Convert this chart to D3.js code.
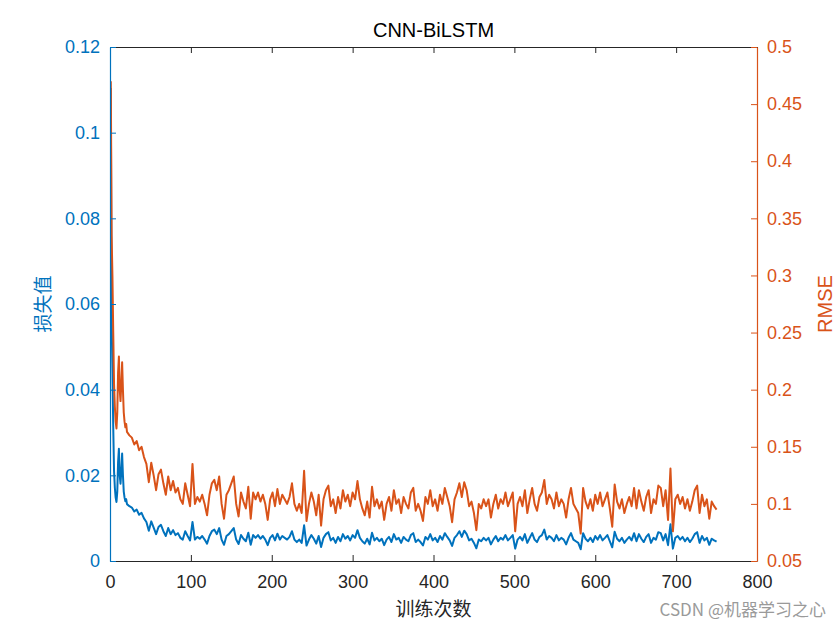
<!DOCTYPE html>
<html>
<head>
<meta charset="utf-8">
<script src="https://cdn.jsdelivr.net/npm/d3@7"></script>
<style>
  html, body { margin: 0; padding: 0; background: #fff; }
  svg { display: block; }
</style>
</head>
<body>
<svg id="chart" width="840" height="630"></svg>
<script>
// ---------------- DATA ----------------
const titleText = "CNN-BiLSTM";
const xLabel = "训练次数";
const yLeftLabel = "损失值";
const yRightLabel = "RMSE";
const watermark = "CSDN @机器学习之心";

const xTicks = [0, 100, 200, 300, 400, 500, 600, 700, 800];
const yLeftTicks = [0, 0.02, 0.04, 0.06, 0.08, 0.1, 0.12];
const yRightTicks = [0.05, 0.1, 0.15, 0.2, 0.25, 0.3, 0.35, 0.4, 0.45, 0.5];

// iterations: 1..20 individually, then every 3rd iteration 21..750
const iterations = d3.range(1, 21).concat(d3.range(21, 751, 3));

// RMSE (right axis)
const rmse = [
  0.470, 0.335, 0.300, 0.250, 0.205, 0.185, 0.172, 0.166, 0.180, 0.215,
  0.229, 0.200, 0.190, 0.205, 0.224, 0.200, 0.180, 0.172, 0.167, 0.170,
  // 21..99
  0.163, 0.160, 0.158, 0.152, 0.155, 0.147, 0.150, 0.141, 0.135, 0.119,
  0.136, 0.125, 0.112, 0.126, 0.130, 0.118, 0.108, 0.124, 0.112, 0.120,
  0.110, 0.114, 0.104, 0.100, 0.118, 0.108, 0.098,
  // 102..189
  0.135, 0.100, 0.106, 0.102, 0.108, 0.100, 0.090, 0.108, 0.118, 0.121,
  0.112, 0.124, 0.100, 0.087, 0.108, 0.112, 0.118, 0.124, 0.100, 0.089,
  0.110, 0.102, 0.096, 0.115, 0.087, 0.110, 0.104, 0.110, 0.102, 0.108,
  // 192..279
  0.100, 0.086, 0.104, 0.110, 0.098, 0.113, 0.100, 0.108, 0.104, 0.100,
  0.106, 0.118, 0.100, 0.094, 0.100, 0.092, 0.129, 0.085, 0.100, 0.110,
  0.102, 0.090, 0.108, 0.081, 0.104, 0.112, 0.116, 0.098, 0.104, 0.092,
  // 282..369
  0.106, 0.096, 0.112, 0.102, 0.108, 0.098, 0.110, 0.104, 0.120, 0.104,
  0.096, 0.090, 0.102, 0.088, 0.115, 0.098, 0.104, 0.096, 0.102, 0.086,
  0.100, 0.106, 0.094, 0.112, 0.100, 0.104, 0.092, 0.106, 0.100, 0.096,
  // 372..459
  0.110, 0.114, 0.094, 0.100, 0.094, 0.085, 0.106, 0.100, 0.112, 0.098,
  0.104, 0.094, 0.108, 0.100, 0.114, 0.106, 0.098, 0.084, 0.104, 0.110,
  0.118, 0.106, 0.119, 0.112, 0.098, 0.102, 0.092, 0.077, 0.100, 0.096,
  // 462..549
  0.104, 0.098, 0.104, 0.088, 0.100, 0.108, 0.096, 0.104, 0.100, 0.110,
  0.098, 0.104, 0.110, 0.076, 0.100, 0.106, 0.098, 0.112, 0.092, 0.104,
  0.114, 0.100, 0.094, 0.106, 0.110, 0.121, 0.100, 0.108, 0.104, 0.096,
  // 552..639
  0.110, 0.098, 0.104, 0.100, 0.088, 0.104, 0.114, 0.100, 0.096, 0.092,
  0.074, 0.114, 0.102, 0.096, 0.104, 0.094, 0.108, 0.100, 0.110, 0.098,
  0.104, 0.110, 0.096, 0.080, 0.117, 0.102, 0.096, 0.104, 0.092, 0.100,
  // 642..729
  0.106, 0.098, 0.114, 0.096, 0.112, 0.102, 0.094, 0.106, 0.112, 0.092,
  0.104, 0.100, 0.116, 0.114, 0.098, 0.112, 0.086, 0.131, 0.076, 0.104,
  0.108, 0.100, 0.106, 0.096, 0.104, 0.094, 0.102, 0.112, 0.116, 0.092,
  // 732..750
  0.108, 0.098, 0.104, 0.087, 0.102, 0.098, 0.095
];

// Loss (left axis)
const loss = [
  0.11045, 0.05611, 0.04500, 0.03125, 0.02101, 0.01711, 0.01479, 0.01378, 0.01620, 0.02311,
  0.02622, 0.02000, 0.01805, 0.02101, 0.02509, 0.02000, 0.01620, 0.01479, 0.01394, 0.01445,
  // 21..99
  0.01328, 0.01280, 0.01248, 0.01155, 0.01201, 0.01080, 0.01125, 0.00994, 0.00911, 0.00708,
  0.00925, 0.00781, 0.00627, 0.00794, 0.00845, 0.00696, 0.00583, 0.00769, 0.00627, 0.00720,
  0.00605, 0.00650, 0.00541, 0.00500, 0.00696, 0.00583, 0.00480,
  // 102..189
  0.00911, 0.00500, 0.00562, 0.00520, 0.00583, 0.00500, 0.00405, 0.00583, 0.00696, 0.00732,
  0.00627, 0.00769, 0.00500, 0.00378, 0.00583, 0.00627, 0.00696, 0.00769, 0.00500, 0.00396,
  0.00605, 0.00520, 0.00461, 0.00661, 0.00378, 0.00605, 0.00541, 0.00605, 0.00520, 0.00583,
  // 192..279
  0.00500, 0.00370, 0.00541, 0.00605, 0.00480, 0.00638, 0.00500, 0.00583, 0.00541, 0.00500,
  0.00562, 0.00696, 0.00500, 0.00442, 0.00500, 0.00423, 0.00832, 0.00361, 0.00500, 0.00605,
  0.00520, 0.00405, 0.00583, 0.00328, 0.00541, 0.00627, 0.00673, 0.00480, 0.00541, 0.00423,
  // 282..369
  0.00562, 0.00461, 0.00627, 0.00520, 0.00583, 0.00480, 0.00605, 0.00541, 0.00720, 0.00541,
  0.00461, 0.00405, 0.00520, 0.00387, 0.00661, 0.00480, 0.00541, 0.00461, 0.00520, 0.00370,
  0.00500, 0.00562, 0.00442, 0.00627, 0.00500, 0.00541, 0.00423, 0.00562, 0.00500, 0.00461,
  // 372..459
  0.00605, 0.00650, 0.00442, 0.00500, 0.00442, 0.00361, 0.00562, 0.00500, 0.00627, 0.00480,
  0.00541, 0.00442, 0.00583, 0.00500, 0.00650, 0.00562, 0.00480, 0.00353, 0.00541, 0.00605,
  0.00696, 0.00562, 0.00708, 0.00627, 0.00480, 0.00520, 0.00423, 0.00296, 0.00500, 0.00461,
  // 462..549
  0.00541, 0.00480, 0.00541, 0.00387, 0.00500, 0.00583, 0.00461, 0.00541, 0.00500, 0.00605,
  0.00480, 0.00541, 0.00605, 0.00289, 0.00500, 0.00562, 0.00480, 0.00627, 0.00423, 0.00541,
  0.00650, 0.00500, 0.00442, 0.00562, 0.00605, 0.00732, 0.00500, 0.00583, 0.00541, 0.00461,
  // 552..639
  0.00605, 0.00480, 0.00541, 0.00500, 0.00387, 0.00541, 0.00650, 0.00500, 0.00461, 0.00423,
  0.00274, 0.00650, 0.00520, 0.00461, 0.00541, 0.00442, 0.00583, 0.00500, 0.00605, 0.00480,
  0.00541, 0.00605, 0.00461, 0.00320, 0.00684, 0.00520, 0.00461, 0.00541, 0.00423, 0.00500,
  // 642..729
  0.00562, 0.00480, 0.00650, 0.00461, 0.00627, 0.00520, 0.00442, 0.00562, 0.00627, 0.00423,
  0.00541, 0.00500, 0.00673, 0.00650, 0.00480, 0.00627, 0.00370, 0.00858, 0.00289, 0.00541,
  0.00583, 0.00500, 0.00562, 0.00461, 0.00541, 0.00442, 0.00520, 0.00627, 0.00673, 0.00423,
  // 732..750
  0.00583, 0.00480, 0.00541, 0.00378, 0.00520, 0.00480, 0.00451
];

// ---------------- STYLE ----------------
const BLUE = "#0072BD";
const ORANGE = "#D95319";
const AXIS = "#262626";
const FONT = "Arial, 'Liberation Sans', Helvetica, sans-serif";
const CJK = "'Noto Sans CJK SC', 'Noto Sans', sans-serif";

const margin = { left: 110, right: 83, top: 47, bottom: 69 };
const W = 840, H = 630;
const pw = W - margin.left - margin.right;   // 647
const ph = H - margin.top - margin.bottom;   // 514

const svg = d3.select("#chart");
const g = svg.append("g").attr("transform", `translate(${margin.left},${margin.top})`);

const x = d3.scaleLinear().domain([0, 800]).range([0, pw]);
const yL = d3.scaleLinear().domain([0, 0.12]).range([ph, 0]);
const yR = d3.scaleLinear().domain([0.05, 0.5]).range([ph, 0]);

const n = Math.min(iterations.length, rmse.length, loss.length);
const idx = d3.range(n);

// clip
svg.append("defs").append("clipPath").attr("id", "clip")
  .append("rect").attr("x", 0).attr("y", 0).attr("width", pw).attr("height", ph);

const lineR = d3.line().x(i => x(iterations[i])).y(i => yR(rmse[i]));
const lineL = d3.line().x(i => x(iterations[i])).y(i => yL(loss[i]));

const plot = g.append("g").attr("clip-path", "url(#clip)");
plot.append("path").attr("d", lineL(idx))
  .attr("fill", "none").attr("stroke", BLUE).attr("stroke-width", 2)
  .attr("stroke-linejoin", "round");
plot.append("path").attr("d", lineR(idx))
  .attr("fill", "none").attr("stroke", ORANGE).attr("stroke-width", 2)
  .attr("stroke-linejoin", "round");

// ---------------- AXES ----------------
function styleAxis(sel, color) {
  sel.selectAll(".domain").attr("stroke", color).attr("stroke-width", 1.2);
  sel.selectAll(".tick line").attr("stroke", color).attr("stroke-width", 1);
  sel.selectAll(".tick text").attr("fill", color)
    .style("font-family", FONT).style("font-size", "18px");
}

// bottom
const xb = g.append("g").attr("transform", `translate(0,${ph})`)
  .call(d3.axisBottom(x).tickValues(xTicks).tickFormat(d3.format("d"))
    .tickSizeInner(-6).tickSizeOuter(0).tickPadding(14));
styleAxis(xb, AXIS);

// top
const xt = g.append("g")
  .call(d3.axisTop(x).tickValues(xTicks).tickFormat("")
    .tickSizeInner(-6).tickSizeOuter(0));
styleAxis(xt, AXIS);

// left
const fmtL = d => d === 0 ? "0" : String(+d.toFixed(2));
const yl = g.append("g")
  .call(d3.axisLeft(yL).tickValues(yLeftTicks).tickFormat(fmtL)
    .tickSizeInner(-6).tickSizeOuter(0).tickPadding(10));
styleAxis(yl, BLUE);

// right
const fmtR = d => String(+d.toFixed(2));
const yr = g.append("g").attr("transform", `translate(${pw},0)`)
  .call(d3.axisRight(yR).tickValues(yRightTicks).tickFormat(fmtR)
    .tickSizeInner(-6).tickSizeOuter(0).tickPadding(10));
styleAxis(yr, ORANGE);

// ---------------- TEXT ----------------
svg.append("text").attr("x", margin.left + pw / 2).attr("y", 32)
  .attr("text-anchor", "middle").attr("dominant-baseline", "middle")
  .attr("fill", "#000").style("font-family", FONT).style("font-size", "20px")
  .text(titleText);

svg.append("text").attr("x", margin.left + pw / 2).attr("y", 611)
  .attr("text-anchor", "middle").attr("dominant-baseline", "middle")
  .attr("fill", AXIS).style("font-family", CJK).style("font-size", "19px")
  .text(xLabel);

svg.append("text")
  .attr("transform", `translate(45,${margin.top + ph / 2}) rotate(-90)`)
  .attr("text-anchor", "middle").attr("dominant-baseline", "middle")
  .attr("fill", BLUE).style("font-family", CJK).style("font-size", "19px")
  .text(yLeftLabel);

svg.append("text")
  .attr("transform", `translate(827,${margin.top + ph / 2}) rotate(-90)`)
  .attr("text-anchor", "middle").attr("dominant-baseline", "middle")
  .attr("fill", ORANGE).style("font-family", FONT).style("font-size", "20px")
  .text(yRightLabel);

svg.append("text").attr("x", 826).attr("y", 611)
  .attr("text-anchor", "end").attr("dominant-baseline", "middle")
  .attr("fill", "#9a9a9a").style("font-family", CJK).style("font-size", "17px")
  .text(watermark);
</script>
</body>
</html>
